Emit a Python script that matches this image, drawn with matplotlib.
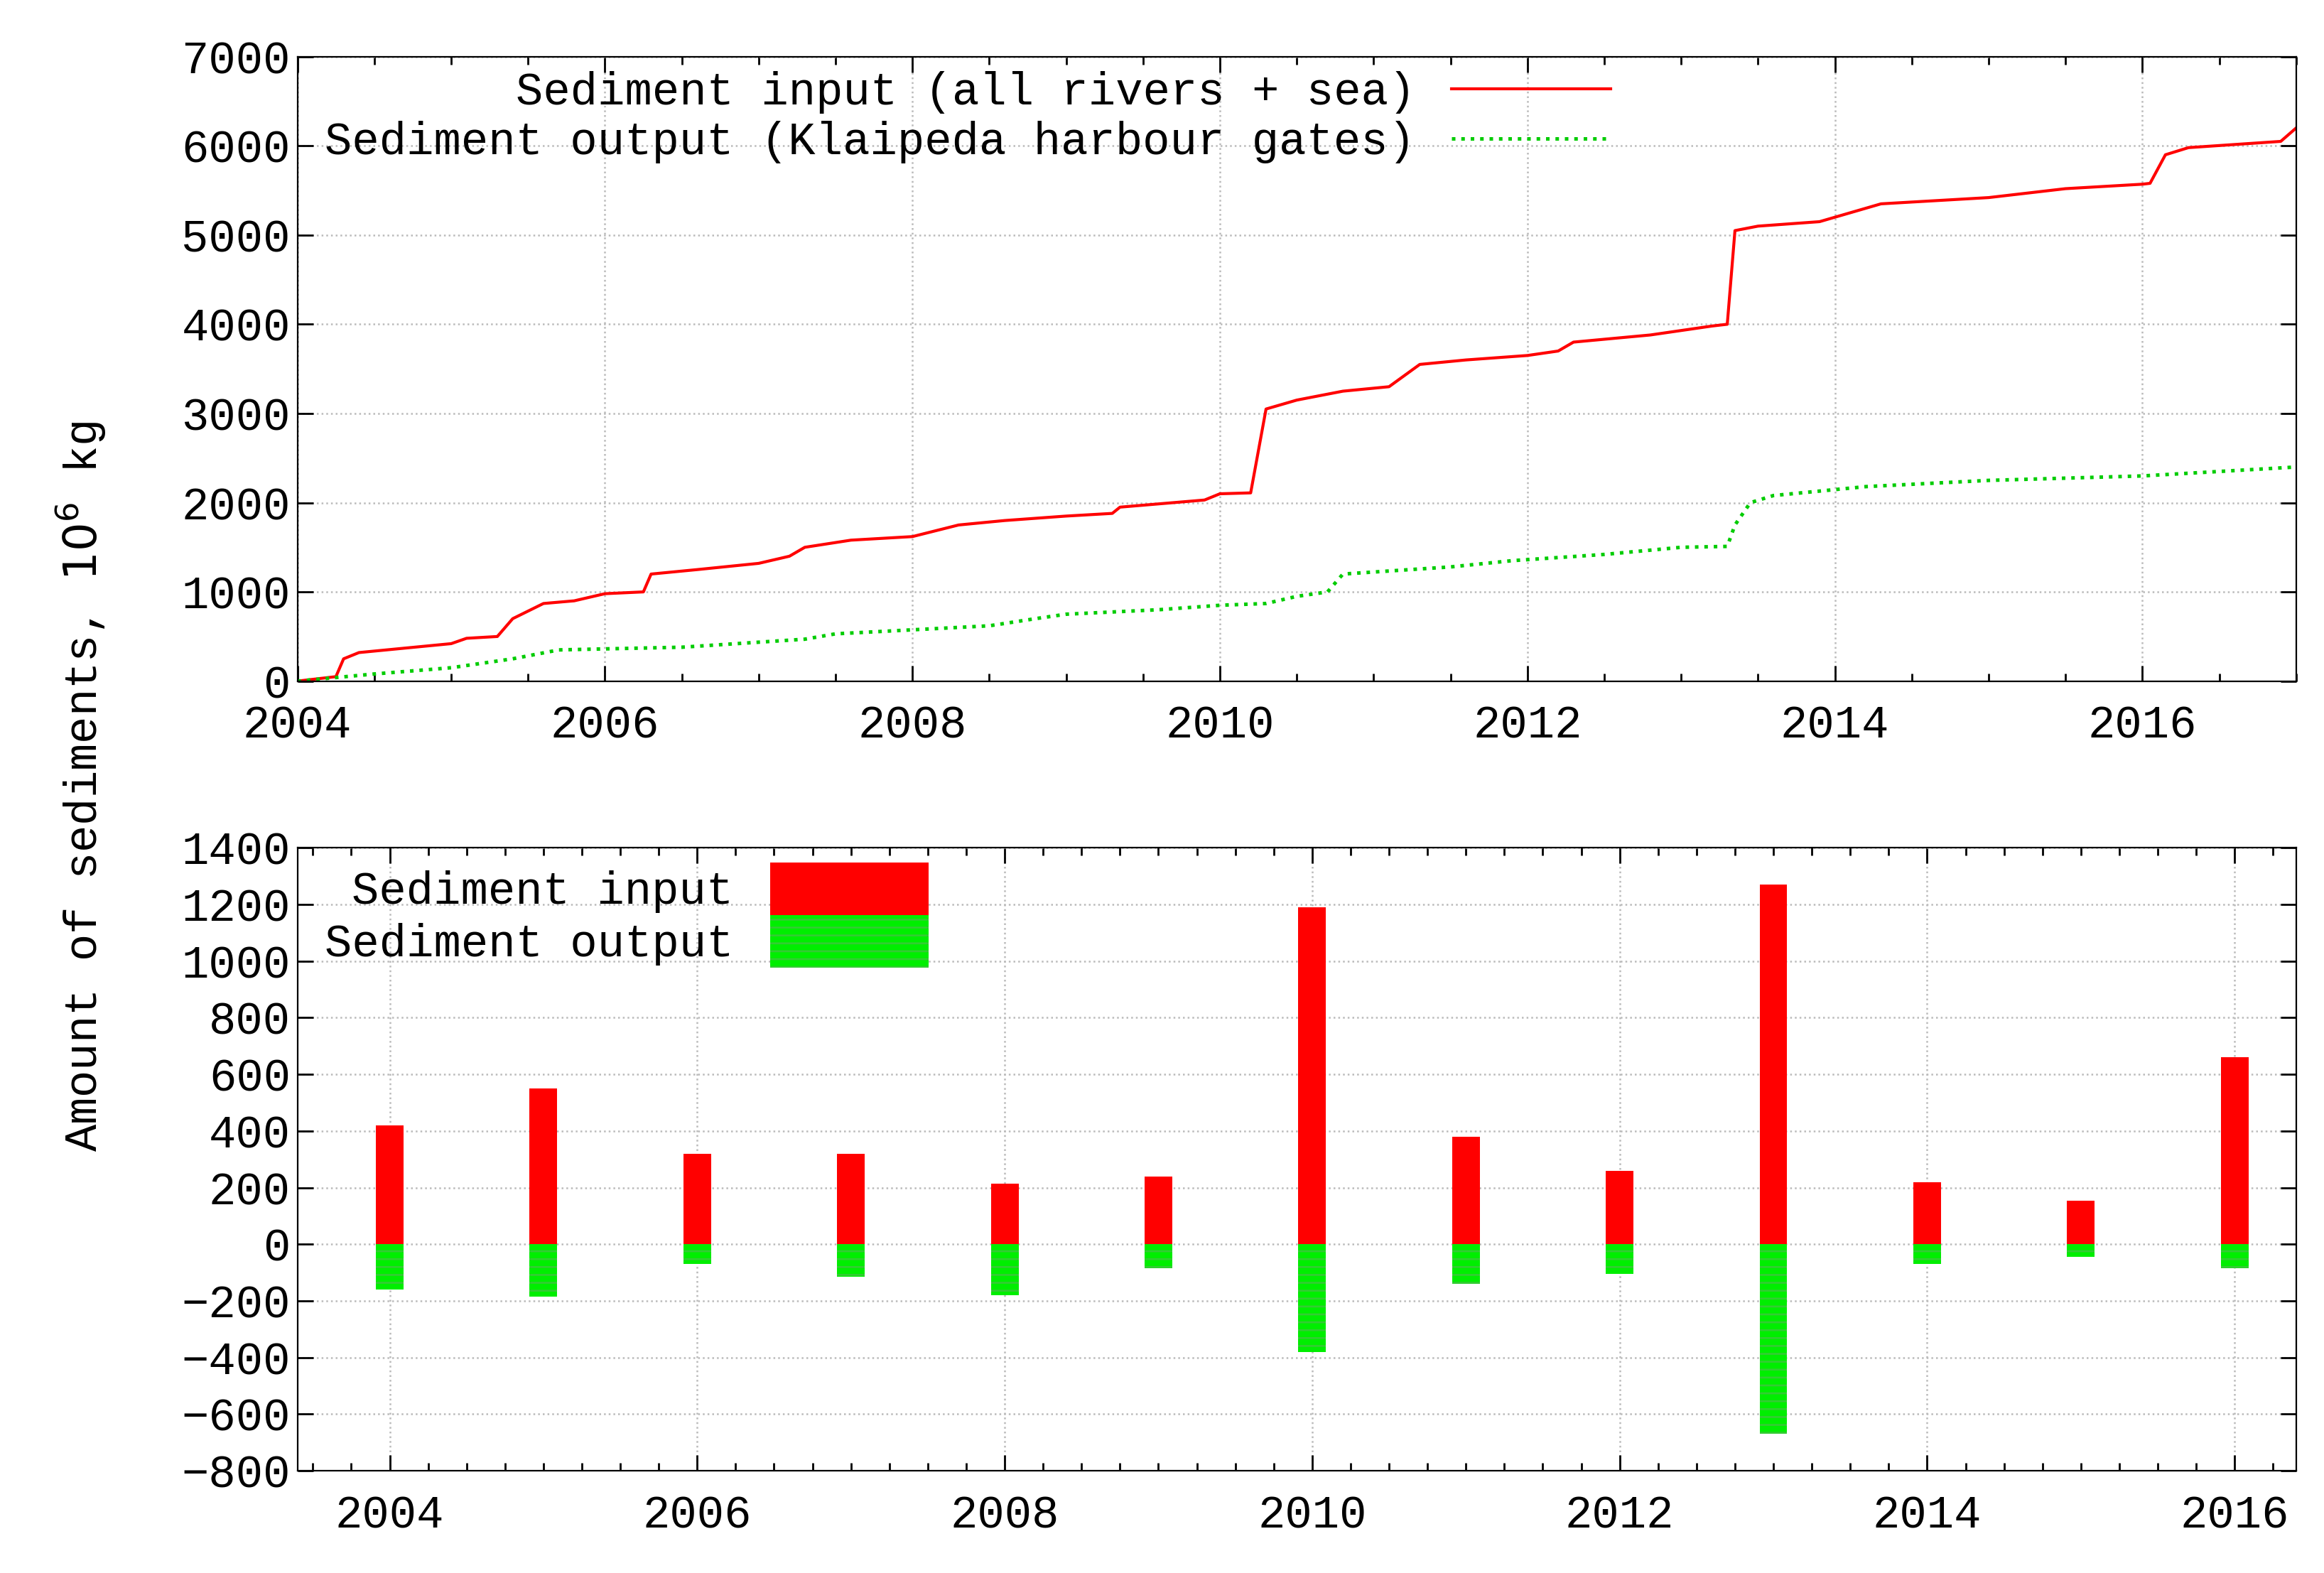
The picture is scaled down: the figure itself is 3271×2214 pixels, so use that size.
import numpy as np
import matplotlib.pyplot as plt
from matplotlib.patches import Patch
from matplotlib.ticker import MultipleLocator

# cumulative sediment input (all rivers + sea), 10^6 kg
t_in = [2004.0, 2004.25, 2004.3, 2004.4, 2005.0, 2005.1, 2005.3, 2005.4, 2005.6, 2005.8,
        2006.0, 2006.25, 2006.3, 2006.6, 2007.0, 2007.2, 2007.3, 2007.6, 2008.0, 2008.3,
        2008.6, 2009.0, 2009.3, 2009.35, 2009.9, 2010.0, 2010.2, 2010.3, 2010.5, 2010.8,
        2011.1, 2011.3, 2011.6, 2012.0, 2012.2, 2012.3, 2012.8, 2013.2, 2013.3, 2013.35,
        2013.5, 2013.9, 2014.1, 2014.3, 2015.0, 2015.5, 2016.0, 2016.05, 2016.15, 2016.3,
        2016.9, 2017.0]
v_in = [0, 50, 250, 320, 420, 480, 500, 700, 870, 900,
        980, 1000, 1200, 1250, 1320, 1400, 1500, 1580, 1620, 1750,
        1800, 1850, 1880, 1950, 2030, 2100, 2110, 3050, 3150, 3250,
        3300, 3550, 3600, 3650, 3700, 3800, 3880, 3980, 4000, 5050,
        5100, 5150, 5250, 5350, 5420, 5520, 5570, 5580, 5900, 5980,
        6050, 6200]

# cumulative sediment output (Klaipeda harbour gates)
t_out = [2004.0, 2004.5, 2005.0, 2005.4, 2005.7, 2006.5, 2007.3, 2007.5, 2008.5, 2008.8,
         2009.0, 2009.6, 2010.0, 2010.3, 2010.5, 2010.7, 2010.8, 2011.5, 2011.9, 2012.5,
         2013.0, 2013.3, 2013.35, 2013.45, 2013.6, 2014.2, 2015.0, 2016.0, 2017.0]
v_out = [0, 80, 150, 250, 350, 380, 470, 530, 620, 700,
         750, 800, 850, 870, 950, 1000, 1200, 1280, 1350, 1420,
         1500, 1510, 1750, 2000, 2080, 2180, 2250, 2300, 2400]

# annual amounts
years = np.arange(2004, 2017)
annual_in = [420, 550, 320, 320, 215, 240, 1190, 380, 260, 1270, 220, 155, 660]
annual_out = [-160, -185, -70, -115, -180, -85, -380, -140, -105, -670, -70, -45, -85]

plt.rcParams['font.family'] = ['Liberation Mono', 'DejaVu Sans Mono']
plt.rcParams['font.size'] = 23

fig = plt.figure(figsize=(16.355, 11.07), dpi=200)
ax1 = fig.add_axes([0.128, 0.567, 0.86, 0.397])
ax2 = fig.add_axes([0.128, 0.065, 0.86, 0.396])

for ax in (ax1, ax2):
    ax.grid(True, color='#bbbbbb', linestyle=':', linewidth=0.9)
    ax.tick_params(direction='in', which='both', top=True, right=True, length=8, width=1)
    ax.tick_params(which='minor', length=4)
    ax.tick_params(axis='x', pad=12)

ax1.plot(t_in, v_in, color='red', lw=1.5, label='Sediment input (all rivers + sea)')
ax1.plot(t_out, v_out, color='#00cc00', lw=1.8, ls=':', label='Sediment output (Klaipeda harbour gates)')
ax1.set_xlim(2004, 2017)
ax1.set_ylim(0, 7000)
ax1.xaxis.set_major_locator(MultipleLocator(2))
ax1.xaxis.set_minor_locator(MultipleLocator(0.5))
ax1.yaxis.set_major_locator(MultipleLocator(1000))
leg = ax1.legend(loc='upper left', bbox_to_anchor=(0.0, 1.02), frameon=False, markerfirst=False,
                 handlelength=3.5, labelspacing=0.15, borderaxespad=0.2)
leg._legend_box.align = 'right'

ax2.bar(years, annual_in, width=0.18, color='red', zorder=3)
ax2.bar(years, annual_out, width=0.18, color='#00ee00', edgecolor='#33cc33',
        hatch='---', linewidth=0, zorder=3)
ax2.set_xlim(2003.4, 2016.4)
ax2.set_ylim(-800, 1400)
ax2.xaxis.set_major_locator(MultipleLocator(2))
ax2.xaxis.set_minor_locator(MultipleLocator(0.25))
ax2.yaxis.set_major_locator(MultipleLocator(200))
handles = [Patch(facecolor='red'), Patch(facecolor='#00ee00', edgecolor='#33cc33', hatch='---', linewidth=0)]
leg2 = ax2.legend(handles, ['Sediment input', 'Sediment output'], loc='upper left', bbox_to_anchor=(0.0, 1.02),
                  frameon=False, markerfirst=False, handlelength=3.5, handleheight=1.4,
                  labelspacing=0.0, borderaxespad=0.2)
leg2._legend_box.align = 'right'

fig.text(0.035, 0.5, 'Amount of sediments, $10^6$ kg', rotation=90, ha='center', va='center', fontsize=23)

fig.savefig('out.png', dpi=200)
